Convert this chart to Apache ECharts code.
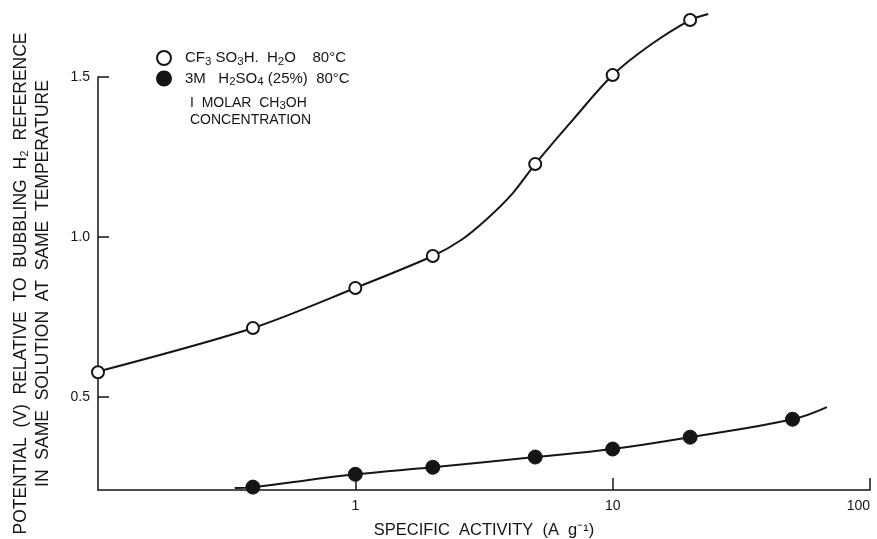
<!DOCTYPE html>
<html>
<head>
<meta charset="utf-8">
<script src="https://cdn.jsdelivr.net/npm/echarts@6/dist/echarts.min.js"></script>
<style>
  html, body { margin: 0; padding: 0; background: #fff; }
  #chart { width: 877px; height: 539px; }
</style>
</head>
<body>
<div id="chart"></div>
<script>
// Methanol oxidation potential vs. specific activity (log scale)
const triflicX = [0.1, 0.4, 1, 2, 5, 10, 20];
const triflicY = [0.578, 0.716, 0.841, 0.941, 1.228, 1.506, 1.678];
const sulfuricX = [0.4, 1, 2, 5, 10, 20, 50];
const sulfuricY = [0.219, 0.259, 0.281, 0.313, 0.338, 0.375, 0.431];

// Hand-drawn trend curves through each data set
const triflicCurveX = [0.1, 0.4, 1, 2, 2.57, 3.23, 4.07, 5, 7, 10, 14, 20, 23.5];
const triflicCurveY = [0.58, 0.716, 0.841, 0.941, 0.99, 1.055, 1.135, 1.228, 1.366, 1.506, 1.6, 1.678, 1.697];
const sulfuricCurveX = [0.34, 0.4, 1, 2, 5, 10, 20, 50, 68];
const sulfuricCurveY = [0.216, 0.219, 0.259, 0.281, 0.313, 0.338, 0.375, 0.431, 0.469];

const yTicks = [0.5, 1.0, 1.5];
const xTickLabels = ['1', '10', '100'];

// legend labels in rich-text form, {s|..} marks a subscript
const seriesNames = ['triflic', 'sulfuric'];
const seriesLabels = ['CF{s|3} SO{s|3}H.  H{s|2}O    80°C', '3M   H{s|2}SO{s|4} (25%)  80°C'];
const noteLines = ['I  MOLAR  CH{s|3}OH', 'CONCENTRATION'];

const zip = (xs, ys) => xs.map((x, i) => [x, ys[i]]);
const FONT = 'Liberation Sans';
const INK = '#151515';

const subStyle = { fontFamily: FONT, fontSize: 11.5, color: INK, verticalAlign: 'bottom', padding: [7, 0, 0, 0] };

const chart = echarts.init(document.getElementById('chart'), null, { renderer: 'canvas' });
chart.setOption({
  backgroundColor: '#ffffff',
  animation: false,
  grid: { left: 98, right: 7, top: 77, bottom: 49, outerBoundsMode: 'none' },
  title: {
    text: noteLines.join('\n'),
    left: 190, top: 95, padding: 0,
    textStyle: {
      fontFamily: FONT, fontSize: 14, fontWeight: 'normal', color: INK, lineHeight: 17,
      rich: { s: subStyle }
    }
  },
  legend: {
    orient: 'vertical',
    left: 156, top: 50, padding: 0,
    itemGap: 3,
    itemWidth: 14, itemHeight: 14,
    data: [
      { name: seriesNames[0], icon: 'circle' },
      { name: seriesNames[1], icon: 'circle' }
    ],
    formatter: name => seriesLabels[seriesNames.indexOf(name)],
    textStyle: {
      fontFamily: FONT, fontSize: 15, color: INK, padding: [0, 0, 0, 9],
      rich: { s: subStyle }
    }
  },
  xAxis: {
    type: 'log',
    logBase: 10,
    min: 0.1, max: 100,
    name: 'SPECIFIC  ACTIVITY  (A  g⁻¹)',
    nameLocation: 'middle',
    nameGap: 32,
    nameTextStyle: { fontFamily: FONT, fontSize: 16.5, color: INK },
    axisLine: { lineStyle: { color: INK, width: 1.5 } },
    axisTick: { inside: true, length: 12, lineStyle: { color: INK, width: 1.5 } },
    splitLine: { show: false },
    minorTick: { show: false },
    axisLabel: {
      fontFamily: FONT, fontSize: 14, color: INK, margin: 9,
      showMinLabel: false,
      alignMaxLabel: 'right',
      formatter: v => {
        const s = String(Math.round(v));
        return xTickLabels.includes(s) ? s : '';
      }
    }
  },
  yAxis: {
    type: 'value',
    min: 0.21, max: 1.5,
    name: 'POTENTIAL  (V)  RELATIVE  TO  BUBBLING  H₂  REFERENCE\nIN  SAME  SOLUTION  AT  SAME  TEMPERATURE',
    nameLocation: 'middle',
    nameRotate: 90,
    nameGap: 44,
    nameTextStyle: { fontFamily: FONT, fontSize: 17.5, color: INK, lineHeight: 22, align: 'center' },
    axisLine: { show: true, lineStyle: { color: INK, width: 1.5 } },
    axisTick: { show: true, inside: true, length: 11, customValues: yTicks, lineStyle: { color: INK, width: 1.5 } },
    splitLine: { show: false },
    axisLabel: {
      fontFamily: FONT, fontSize: 14, color: INK, margin: 8,
      customValues: yTicks,
      formatter: v => v.toFixed(1)
    }
  },
  series: [
    {
      name: 'triflic-curve', type: 'line', smooth: 0.3, clip: false, silent: true,
      showSymbol: false, symbol: 'none',
      lineStyle: { color: INK, width: 2 },
      data: zip(triflicCurveX, triflicCurveY), z: 2
    },
    {
      name: 'sulfuric-curve', type: 'line', smooth: 0.4, clip: false, silent: true,
      showSymbol: false, symbol: 'none',
      lineStyle: { color: INK, width: 2 },
      data: zip(sulfuricCurveX, sulfuricCurveY), z: 2
    },
    {
      name: seriesNames[0], type: 'scatter', clip: false,
      symbol: 'circle', symbolSize: 12,
      itemStyle: { color: '#ffffff', borderColor: INK, borderWidth: 2, opacity: 1 },
      data: zip(triflicX, triflicY), z: 5
    },
    {
      name: seriesNames[1], type: 'scatter', clip: false,
      symbol: 'circle', symbolSize: 14,
      itemStyle: { color: INK, borderColor: INK, borderWidth: 1, opacity: 1 },
      data: zip(sulfuricX, sulfuricY), z: 5
    }
  ]
});
</script>
</body>
</html>
